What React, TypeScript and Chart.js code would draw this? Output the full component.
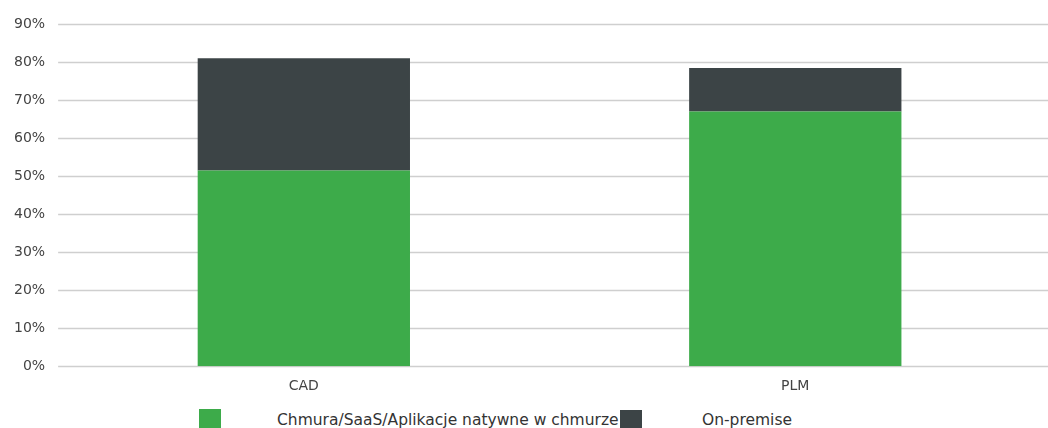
import React, { useEffect, useRef } from "react";
import { Chart, registerables } from "chart.js";

Chart.register(...registerables);

const categories = ["CAD", "PLM"];
const cloudValues = [51.5, 67.0];
const onPremValues = [29.5, 11.4];
const seriesLabels = ["Chmura/SaaS/Aplikacje natywne w chmurze", "On-premise"];
const seriesColors = ["#3dab4a", "#3c4446"];
const yTicks = [0, 10, 20, 30, 40, 50, 60, 70, 80, 90];

const FONT = "'DejaVu Sans', sans-serif";

const gridExtend = {
  id: "gridExtend",
  beforeDatasetsDraw(chart: any) {
    const { ctx, chartArea, scales } = chart;
    const y = scales.y;
    ctx.save();
    ctx.strokeStyle = "#cfcfcf";
    ctx.lineWidth = 1.5;
    y.ticks.forEach((t: any) => {
      const py = Math.round(y.getPixelForValue(t.value)) + 0.5;
      ctx.beginPath();
      ctx.moveTo(chartArea.left, py);
      ctx.lineTo(chart.width, py);
      ctx.stroke();
    });
    ctx.restore();
  },
};

export default function App() {
  const ref = useRef<HTMLCanvasElement | null>(null);

  useEffect(() => {
    if (!ref.current) return;
    const chart = new Chart(ref.current, {
      type: "bar",
      data: {
        labels: categories,
        datasets: [
          {
            label: seriesLabels[0],
            data: cloudValues,
            backgroundColor: seriesColors[0],
            barPercentage: 0.432,
            categoryPercentage: 1,
          },
          {
            label: seriesLabels[1],
            data: onPremValues,
            backgroundColor: seriesColors[1],
            barPercentage: 0.432,
            categoryPercentage: 1,
          },
        ],
      },
      plugins: [gridExtend],
      options: {
        responsive: false,
        animation: false,
        maintainAspectRatio: false,
        layout: { padding: { top: 24, left: 1, right: 7, bottom: 0 } },
        plugins: {
          legend: { display: false },
          tooltip: { enabled: false },
        },
        scales: {
          x: {
            stacked: true,
            grid: { display: false, drawTicks: false },
            border: { display: false },
            ticks: {
              color: "#444",
              font: { family: FONT, size: 14 },
              padding: 12,
            },
          },
          y: {
            stacked: true,
            min: 0,
            max: 90,
            afterBuildTicks: (axis: any) => {
              axis.ticks = yTicks.map((v) => ({ value: v }));
            },
            grid: { display: false, drawTicks: false },
            border: { display: false },
            ticks: {
              color: "#444",
              font: { family: FONT, size: 14 },
              padding: 13,
              callback: (v: any) => v + "%",
            },
          },
        },
      },
    });
    return () => chart.destroy();
  }, []);

  const legendLeft = [199, 620];

  return (
    <div style={{ position: "fixed", left: 0, top: 0, width: 1048, height: 428, overflow: "hidden", background: "#fff" }}>
      <canvas ref={ref} width={1048} height={407} style={{ position: "absolute", left: 0, top: 0 }} />
      {seriesLabels.map((lab, i) => (
        <div key={lab} style={{ position: "absolute", left: legendLeft[i], top: 409, whiteSpace: "nowrap" }}>
          <div style={{ position: "absolute", left: 0, top: i === 0 ? 0 : 1, width: 22, height: 22, background: seriesColors[i], zIndex: i }} />
          <span style={{ position: "absolute", left: i === 0 ? 78 : 82, top: 2, fontFamily: FONT, fontSize: 15.5, color: "#333", zIndex: 0 }}>{lab}</span>
        </div>
      ))}
    </div>
  );
}
